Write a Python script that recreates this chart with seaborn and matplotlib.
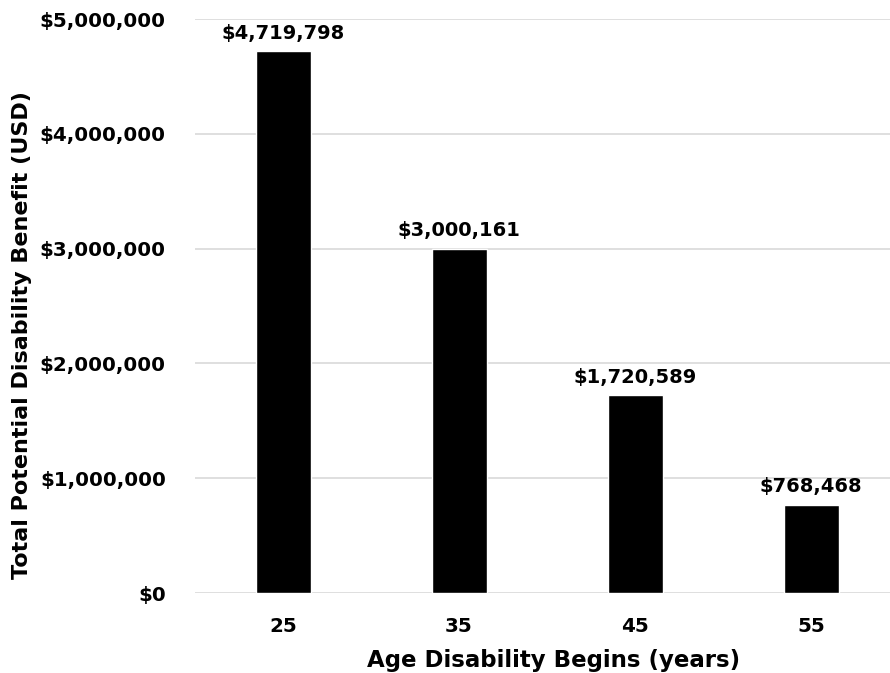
import pandas as pd
import matplotlib.pyplot as plt
import seaborn as sns
from matplotlib.ticker import FuncFormatter

# Values
ages = ['25', '35', '45', '55']
benefit = [4719798, 3000161, 1720589, 768468]
y_ticks = [0, 1000000, 2000000, 3000000, 4000000, 5000000]

df = pd.DataFrame({'age': ages, 'benefit': benefit})

sns.set_style('white')
plt.rcParams['font.family'] = ['DejaVu Sans']
plt.rcParams['font.weight'] = 'bold'
plt.rcParams['text.color'] = 'black'
plt.rcParams['xtick.color'] = 'black'
plt.rcParams['ytick.color'] = 'black'
plt.rcParams['axes.labelcolor'] = 'black'

fig = plt.figure(figsize=(8.9, 6.73), dpi=100)
# axes runs slightly past the right edge, like the original
ax = fig.add_axes([195 / 890, 80 / 673, 704 / 890, 574 / 673])

sns.barplot(data=df, x='age', y='benefit', color='black', width=0.3125,
            saturation=1, ax=ax, zorder=3)

ax.set_ylim(0, 5000000)
ax.set_yticks(y_ticks)
ax.yaxis.set_major_formatter(FuncFormatter(lambda v, p: f'${v:,.0f}'))
ax.grid(axis='y', color='#d9d9d9', linewidth=1.2, zorder=0)
ax.set_axisbelow(True)
sns.despine(ax=ax, left=True, bottom=True, top=True, right=True)

ax.tick_params(axis='y', length=0, pad=21, labelsize=14.3)
ax.tick_params(axis='x', length=0, pad=17, labelsize=14.3)
for lbl in ax.get_xticklabels() + ax.get_yticklabels():
    lbl.set_fontweight('bold')

ax.bar_label(ax.containers[0], labels=[f'${v:,.0f}' for v in benefit],
             padding=6, fontsize=14, fontweight='bold', color='black')

ax.set_xlabel('Age Disability Begins (years)', fontsize=16.5, fontweight='bold')
ax.set_ylabel('Total Potential Disability Benefit (USD)', fontsize=16,
              fontweight='bold')
ax.xaxis.set_label_coords(0.51, -0.097)
ax.yaxis.set_label_coords(-0.232, 0.45)

fig.savefig('out.png', dpi=100)
